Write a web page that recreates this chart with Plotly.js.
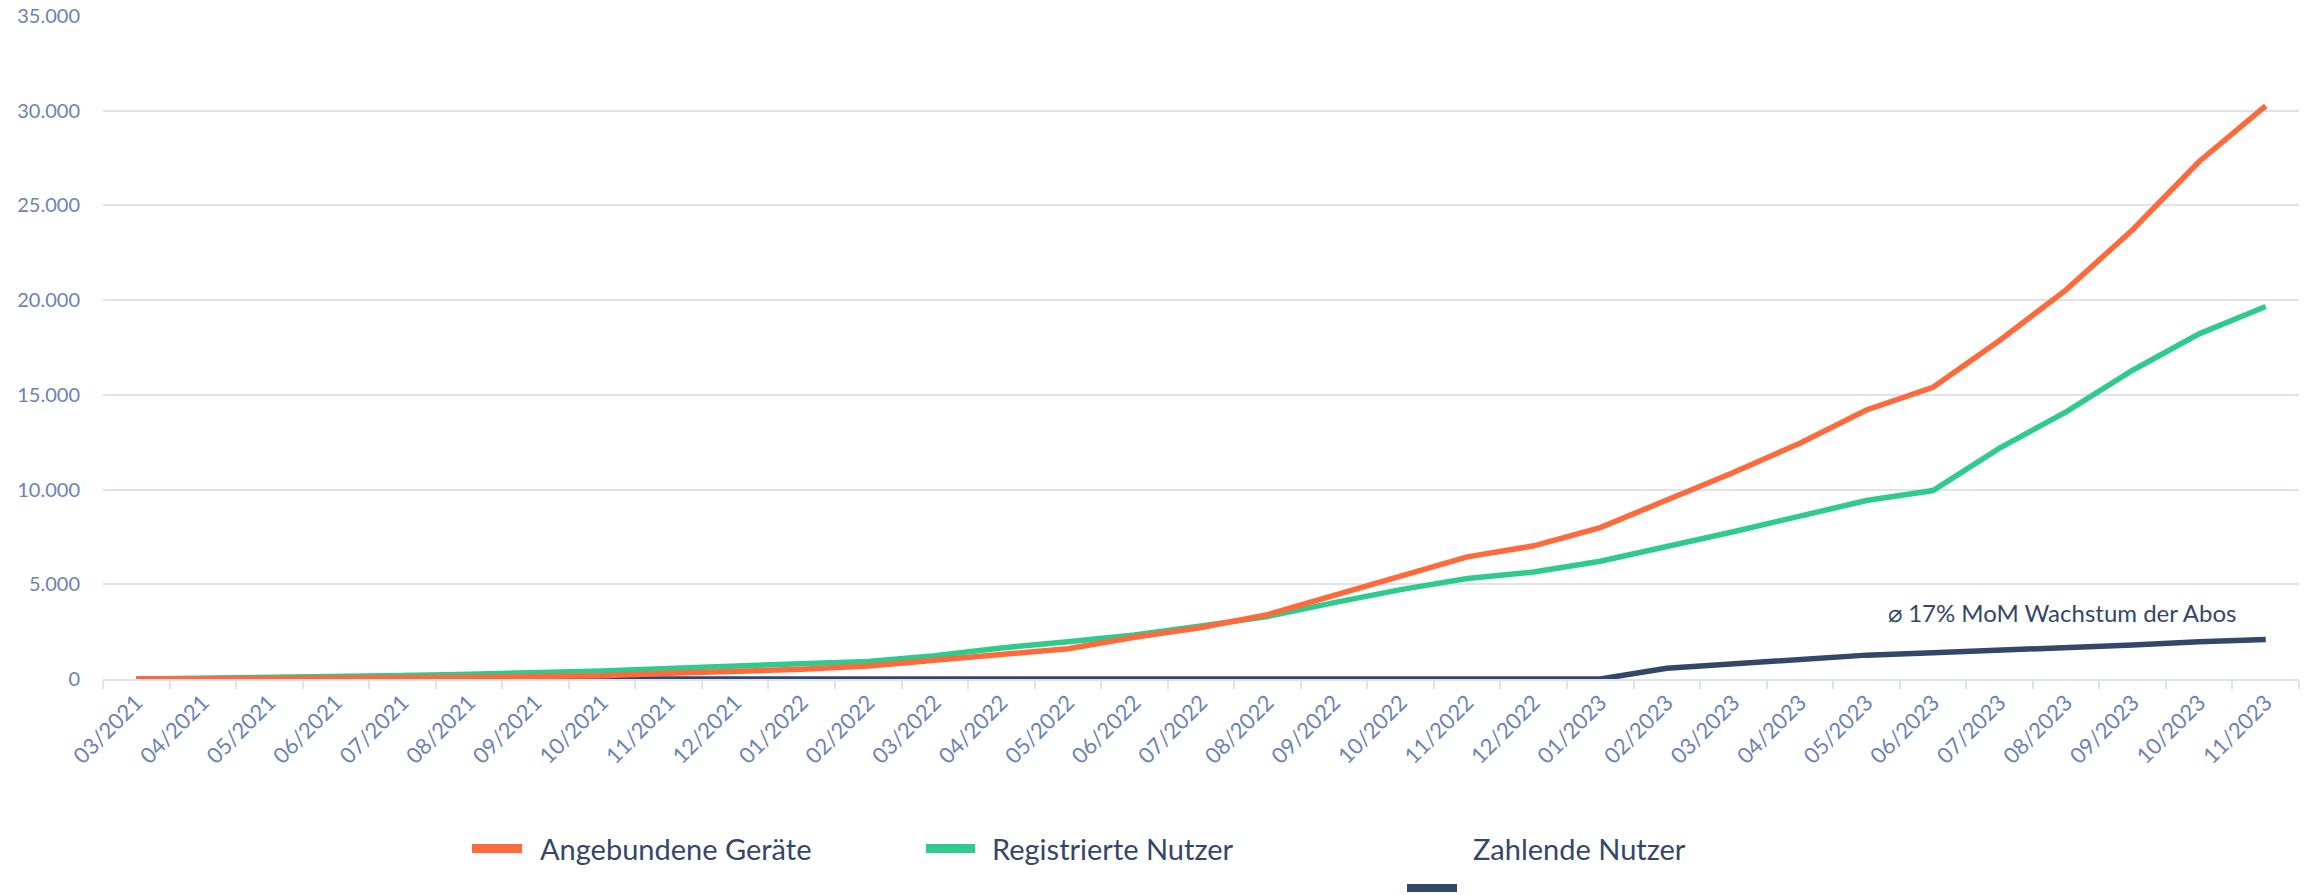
<!DOCTYPE html>
<html>
<head>
<meta charset="utf-8">
<script src="https://cdn.plot.ly/plotly-3.0.1.min.js"></script>
<style>
  html, body { margin: 0; padding: 0; background: #ffffff; }
  #chart { width: 2311px; height: 895px; }
</style>
</head>
<body>
<div id="chart"></div>
<script>
// ---- data ----
const months = [
  "03/2021","04/2021","05/2021","06/2021","07/2021","08/2021","09/2021","10/2021","11/2021","12/2021",
  "01/2022","02/2022","03/2022","04/2022","05/2022","06/2022","07/2022","08/2022","09/2022","10/2022",
  "11/2022","12/2022","01/2023","02/2023","03/2023","04/2023","05/2023","06/2023","07/2023","08/2023",
  "09/2023","10/2023","11/2023"
];
const angebundeneGeraete = [
  0, 5, 15, 30, 55, 90, 130, 178, 300, 400,
  510, 690, 970, 1270, 1600, 2200, 2720, 3400, 4420, 5460,
  6450, 7030, 7990, 9450, 10900, 12450, 14200, 15400, 17870, 20540,
  23720, 27320, 30260
];
const registrierteNutzer = [
  0, 30, 70, 120, 180, 250, 320, 420, 560, 690,
  810, 930, 1230, 1640, 1970, 2320, 2800, 3300, 4030, 4720,
  5300, 5650, 6220, 6980, 7770, 8600, 9420, 9950, 12190, 14100,
  16300, 18220, 19660
];
const zahlendeNutzer = [
  0, 0, 0, 0, 0, 0, 0, 0, 0, 0,
  0, 0, 0, 0, 0, 0, 0, 0, 0, 0,
  0, 0, 0, 570, 800, 1060, 1260, 1390, 1510, 1640,
  1790, 1960, 2080
];
const seriesNames = ["Angebundene Geräte", "Registrierte Nutzer", "Zahlende Nutzer"];
const yTicks = [0, 5000, 10000, 15000, 20000, 25000, 30000, 35000];
const noteText = "⌀ 17% MoM Wachstum der Abos";

// ---- styles ----
const cOrange = "#FF6A3D";
const cGreen = "#2ECB8D";
const cNavy = "#33476A";
const cText = "#34476A";
const cTick = "#6A83B6";
const cGrid = "#DEE3EF";
const FONT = "Lato, 'Open Sans', sans-serif";

// plot-area pixel frame (for placing legend/annotation items)
const PL = 103, PR = 2299, PT = 16, PB = 679;
const px = v => (v - PL) / (PR - PL);
const py = v => (PB - v) / (PB - PT);

const traces = [
  { x: months, y: zahlendeNutzer, name: seriesNames[2], type: "scatter", mode: "lines",
    line: { color: cNavy, width: 5.5 }, showlegend: false },
  { x: months, y: registrierteNutzer, name: seriesNames[1], type: "scatter", mode: "lines",
    line: { color: cGreen, width: 5.5 }, showlegend: false },
  { x: months, y: angebundeneGeraete, name: seriesNames[0], type: "scatter", mode: "lines",
    line: { color: cOrange, width: 5.5 }, showlegend: false }
];

// custom legend (swatches + labels) reproducing reference arrangement
const legendItems = [
  { color: cOrange, sx0: 472, sx1: 522, sy0: 844, sy1: 853, tx: 538, ty: 848.5, text: seriesNames[0] },
  { color: cGreen,  sx0: 926, sx1: 975, sy0: 844, sy1: 853, tx: 990, ty: 848.5, text: seriesNames[1] },
  { color: cNavy,   sx0: 1407, sx1: 1457, sy0: 884, sy1: 892, tx: 1471, ty: 848.5, text: seriesNames[2] }
];

const shapes = legendItems.map(it => ({
  type: "rect", xref: "paper", yref: "paper",
  x0: px(it.sx0), x1: px(it.sx1), y0: py(it.sy1), y1: py(it.sy0),
  fillcolor: it.color, line: { width: 0 }
}));

const annotations = legendItems.map(it => ({
  xref: "paper", yref: "paper", x: px(it.tx), y: py(it.ty),
  xanchor: "left", yanchor: "middle", showarrow: false, text: it.text,
  font: { family: FONT, size: 29, color: cText }
}));
annotations.push({
  xref: "paper", yref: "paper", x: px(2238), y: py(612),
  xanchor: "right", yanchor: "middle", showarrow: false, text: noteText,
  font: { family: FONT, size: 24, color: cText }
});

const layout = {
  width: 2311, height: 895, autosize: false,
  margin: { l: PL, r: 2311 - PR, t: PT, b: 895 - PB, pad: 0 },
  paper_bgcolor: "#ffffff", plot_bgcolor: "#ffffff",
  separators: ",.",
  font: { family: FONT, color: cTick, size: 20 },
  showlegend: false,
  xaxis: {
    type: "category", range: [-0.5, months.length - 0.5],
    tickvals: months, ticktext: months,
    tickangle: -45, tickfont: { family: FONT, size: 22, color: cTick },
    ticks: "outside", tickson: "boundaries", ticklen: 8, tickwidth: 2, tickcolor: cGrid,
    showline: true, linecolor: cGrid, linewidth: 2,
    showgrid: false, zeroline: false, fixedrange: true
  },
  yaxis: {
    range: [0, 35000], tickvals: yTicks, tickformat: ",d",
    tickfont: { family: FONT, size: 20, color: cTick },
    ticks: "", ticklabelstandoff: 22,
    showgrid: true, gridcolor: cGrid, gridwidth: 2,
    zeroline: false, showline: false, fixedrange: true
  },
  shapes: shapes,
  annotations: annotations
};

Plotly.newPlot("chart", traces, layout, { displayModeBar: false, staticPlot: true });
</script>
</body>
</html>
